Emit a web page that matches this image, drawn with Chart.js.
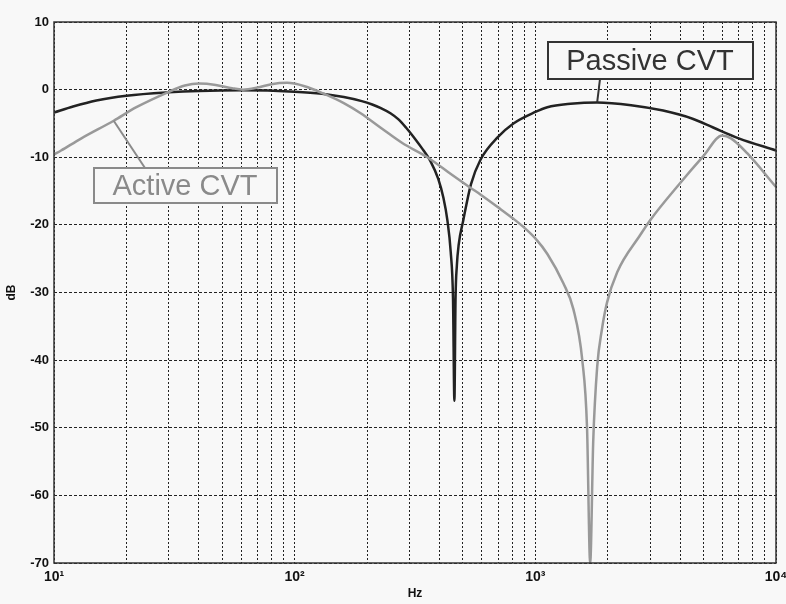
<!DOCTYPE html>
<html>
<head>
<meta charset="utf-8">
<script src="https://cdn.jsdelivr.net/npm/chart.js@4"></script>
<style>
  html, body { margin: 0; padding: 0; background: #f8f8f8; }
  #wrap { width: 786px; height: 604px; }
</style>
</head>
<body>
<div id="wrap"><canvas id="chart" width="786" height="604"></canvas></div>
<script>
// frequency response (Hz, dB)
const passiveHz = [10, 12, 15, 20, 30, 40, 60, 100, 130, 160, 190, 210, 227, 250, 270, 290, 312, 340, 367, 395, 415, 431, 445, 455, 461, 466, 472, 480, 502, 540, 591, 700, 811, 1000, 1122, 1400, 1807, 2500, 3396, 4500, 5480, 7000, 10000];
const passiveDb = [-3.4, -2.5, -1.6, -0.9, -0.4, -0.2, -0.1, -0.3, -0.6, -1.1, -1.7, -2.2, -2.7, -3.5, -4.4, -5.6, -7, -8.8, -10.6, -13.2, -16, -19.3, -24, -31, -46, -31, -26, -23, -19.3, -14, -10.4, -7, -5, -3.3, -2.6, -2.1, -1.9, -2.3, -3.1, -4.3, -5.6, -7.2, -9];

const activeHz = [10, 10.7, 13, 17.7, 22, 29.7, 35, 40, 47, 55, 61, 70, 80, 93, 110, 132, 160, 188, 227, 280, 356, 450, 537, 591, 700, 811, 892, 1000, 1122, 1306, 1440, 1567, 1640, 1690, 1740, 1807, 1890, 1985, 2188, 2727, 3000, 4000, 5000, 5970, 6500, 7590, 10000];
const activeDb = [-9.6, -9, -7.2, -4.6, -2.6, -0.4, 0.6, 0.9, 0.7, 0.2, 0, 0.3, 0.8, 1.0, 0.5, -0.6, -2, -3.5, -5.6, -7.9, -10, -12.6, -14.5, -15.5, -17.4, -19.1, -20.3, -22, -24.3, -28.6, -32.5, -40, -50, -70, -52, -41, -35.5, -31.5, -27, -21.5, -19.3, -13.8, -9.8, -6.8, -7.2, -9.4, -14.4];

const yTicks = [10, 0, -10, -20, -30, -40, -50, -60, -70];
const supers = { 1: "\u00b9", 2: "\u00b2", 3: "\u00b3", 4: "\u2074" };

function pts(xs, ys) {
  return xs.map((x, i) => ({ x: x, y: ys[i] }));
}

// grey page background
const bgPlugin = {
  id: "bg",
  beforeDraw(chart) {
    const c = chart.ctx;
    c.save();
    c.fillStyle = "#f8f8f8";
    c.fillRect(0, 0, chart.width, chart.height);
    c.restore();
  }
};

// solid frame round the plot and the two callout labels
const boxPlugin = {
  id: "frame",
  afterDraw(chart) {
    const c = chart.ctx;
    const a = chart.chartArea;
    const xs = chart.scales.x, ys = chart.scales.y;
    c.save();
    c.strokeStyle = "#333";
    c.lineWidth = 1.5;
    c.setLineDash([]);
    c.strokeRect(a.left, a.top, a.right - a.left, a.bottom - a.top);

    // Passive CVT callout
    c.lineWidth = 2;
    c.strokeStyle = "#333";
    c.beginPath();
    c.moveTo(xs.getPixelForValue(1807), ys.getPixelForValue(-1.9));
    c.lineTo(600, 79);
    c.stroke();
    c.fillStyle = "#f8f8f8";
    c.fillRect(548, 42, 205, 37);
    c.strokeRect(548, 42, 205, 37);
    c.fillStyle = "#333";
    c.font = "29px 'Liberation Sans', Arial, sans-serif";
    c.textAlign = "center";
    c.textBaseline = "middle";
    c.fillText("Passive CVT", 650, 62);

    // Active CVT callout
    c.strokeStyle = "#8a8a8a";
    c.beginPath();
    c.moveTo(xs.getPixelForValue(17.7), ys.getPixelForValue(-4.6));
    c.lineTo(145, 168);
    c.stroke();
    c.fillStyle = "#f8f8f8";
    c.fillRect(94, 168, 183, 35);
    c.strokeRect(94, 168, 183, 35);
    c.fillStyle = "#8a8a8a";
    c.fillText("Active CVT", 185, 187);
    c.restore();
  }
};

const ctx = document.getElementById("chart").getContext("2d");
new Chart(ctx, {
  type: "scatter",
  data: {
    datasets: [
      {
        label: "Active CVT",
        data: pts(activeHz, activeDb),
        showLine: true,
        borderColor: "#999",
        borderWidth: 2.5,
        pointRadius: 0,
        cubicInterpolationMode: "monotone"
      },
      {
        label: "Passive CVT",
        data: pts(passiveHz, passiveDb),
        showLine: true,
        borderColor: "#222",
        borderWidth: 2.5,
        pointRadius: 0,
        cubicInterpolationMode: "monotone"
      }
    ]
  },
  options: {
    responsive: false,
    animation: false,
    clip: true,
    layout: { padding: { left: 4, top: 22, right: 10, bottom: 0 } },
    plugins: {
      legend: { display: false },
      tooltip: { enabled: false }
    },
    scales: {
      x: {
        type: "logarithmic",
        min: 10,
        max: 10000,
        afterBuildTicks(axis) {
          const t = [];
          for (let d = 10; d < 10000; d *= 10) {
            for (let m = 1; m < 10; m++) t.push({ value: m * d });
          }
          t.push({ value: 10000 });
          axis.ticks = t;
        },
        afterFit(axis) {
          axis.height = 41;
          axis.paddingLeft = 0;
          axis.paddingRight = 0;
        },
        ticks: {
          autoSkip: false,
          maxRotation: 0,
          padding: 6,
          color: "#111",
          font: { family: "'Liberation Sans', Arial, sans-serif", size: 14, weight: "bold" },
          callback(v) {
            const e = Math.round(Math.log10(v));
            return Math.abs(Math.log10(v) - e) < 1e-9 ? "10" + supers[e] : "";
          }
        },
        grid: { color: "#222", lineWidth: 1, drawTicks: false },
        border: { display: false, dash: [2, 2] },
        title: {
          display: true,
          text: "Hz",
          color: "#111",
          font: { family: "'Liberation Sans', Arial, sans-serif", size: 12, weight: "bold" },
          padding: { top: 0, bottom: 3 }
        }
      },
      y: {
        min: -70,
        max: 10,
        afterBuildTicks(axis) {
          axis.ticks = yTicks.map(v => ({ value: v }));
        },
        afterFit(axis) {
          axis.width = 50;
          axis.paddingTop = 0;
          axis.paddingBottom = 0;
        },
        ticks: {
          padding: 5,
          color: "#111",
          font: { family: "'Liberation Sans', Arial, sans-serif", size: 13, weight: "bold" }
        },
        grid: { color: "#222", lineWidth: 1, drawTicks: false },
        border: { display: false, dash: [3, 2] },
        title: {
          display: true,
          text: "dB",
          color: "#111",
          font: { family: "'Liberation Sans', Arial, sans-serif", size: 12, weight: "bold" },
          padding: { top: 0, bottom: 2 }
        }
      }
    }
  },
  plugins: [bgPlugin, boxPlugin]
});
</script>
</body>
</html>
